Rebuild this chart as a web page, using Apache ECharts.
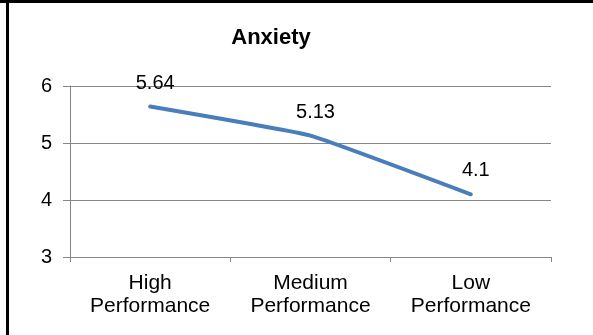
<!DOCTYPE html>
<html><head><meta charset="utf-8">
<script src="https://cdn.jsdelivr.net/npm/echarts@6/dist/echarts.min.js"></script>
<style>html,body{margin:0;padding:0;background:#fff}#c{width:593px;height:335px}</style>
</head><body><div id="c"></div>
<script>
const categories = ['High\nPerformance', 'Medium\nPerformance', 'Low\nPerformance'];
const anxiety = [5.64, 5.13, 4.1];
const yTicks = { min: 3, max: 6, interval: 1 };
const titleText = 'Anxiety';

const chart = echarts.init(document.getElementById('c'), null, { renderer: 'canvas' });
const font = 'Liberation Sans, Arial, sans-serif';
chart.setOption({
  animation: false,
  backgroundColor: '#fff',
  title: {
    text: titleText, left: 266, top: 22, textAlign: 'center',
    textStyle: { fontFamily: font, fontSize: 22, fontWeight: 'bold', color: '#000' }
  },
  grid: { left: 70, right: 42, top: 86, bottom: 78, containLabel: false },
  xAxis: {
    type: 'category', data: categories, boundaryGap: true,
    axisLine: { lineStyle: { color: '#868686', width: 1 } },
    axisTick: { show: true, length: 5, lineStyle: { color: '#868686' } },
    axisLabel: { fontFamily: font, fontSize: 21, color: '#000', lineHeight: 23.5, margin: 14 },
    splitLine: { show: false }
  },
  yAxis: {
    type: 'value', min: yTicks.min, max: yTicks.max, interval: yTicks.interval,
    axisLine: { show: true, lineStyle: { color: '#868686', width: 1 } },
    axisTick: { show: true, length: 7, lineStyle: { color: '#868686' } },
    axisLabel: { fontFamily: font, fontSize: 20, color: '#000', margin: 18 },
    splitLine: { show: true, lineStyle: { color: '#868686', width: 1 } }
  },
  series: [{
    type: 'line', data: anxiety, smooth: 0.1, symbol: 'circle', symbolSize: 1, showSymbol: true,
    itemStyle: { color: 'rgba(0,0,0,0)' },
    lineStyle: { color: '#4A7EBB', width: 4, cap: 'round' },
    label: { show: true, position: 'top', distance: 14, offset: [5, 1],
      fontFamily: font, fontSize: 20, color: '#000' }
  }],
  graphic: [
    { type: 'rect', shape: { x: 0, y: 0, width: 593, height: 3 }, style: { fill: '#000' } },
    { type: 'rect', shape: { x: 6, y: 0, width: 3, height: 335 }, style: { fill: '#000' } }
  ]
});
</script></body></html>
